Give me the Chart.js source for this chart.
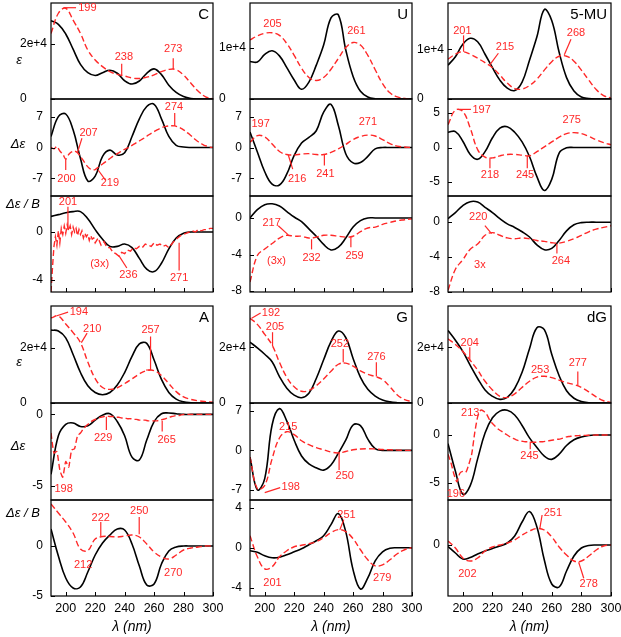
<!DOCTYPE html>
<html>
<head>
<meta charset="utf-8">
<script src="https://cdn.jsdelivr.net/npm/chart.js@4.4.0/dist/chart.umd.min.js"></script>
<style>
  html, body { margin: 0; padding: 0; background: #fff; overflow: hidden; }
  #fig { position: relative; width: 621px; height: 637px; }
  #fig canvas { position: absolute; }
</style>
</head>
<body>
<div id="fig"></div>
<script>
// wavelength grids (nm)
const wl = [190,195,200,205,210,215,220,225,230,235,240,245,250,255,260,265,270,275,280,285,290,295,300];
const wl2 = [190,192,194,196,198,200,202,204,206,208,210,212,214,216,218,220,222,224,226,228,230,232,234,236,238,240,
  242,244,246,248,250,252,254,256,258,260,262,264,266,268,270,272,274,276,278,280,282,284,286,288,290,292,294,296,298,300];
// finer grid for the noisy C MCD trace
const wlNoisy = [190,191,192,193,194,195,196,197,198,199,200,201,202,203,204,205,206,207,208,209,210,211,212,213,214,215,216,217,218,219,220,
  222,224,226,228,230,232,234,236,238,240,242,244,246,248,250,252,254,256,258,260,262,264,266,268,270,272,274,276,278,280,
  282,284,286,288,290,292,294,296,298,300];
const xTicks = [200, 220, 240, 260, 280, 300];

// C
const cEpsBlack = [28300,27000,23500,18000,12500,9500,8500,9500,10400,9300,6600,5400,6500,9300,10900,8800,5000,2400,900,200,0,0,0];
const cEpsRed = [23700,31000,32800,28500,23700,17700,14100,11700,9900,8900,8300,7600,7400,7900,8700,9900,10700,10600,8700,5700,2800,800,100];
const cCdBlack = [2.5,7.0,7.6,4.0,-2.5,-7.6,-6.5,-2.0,-0.6,-1.7,-1.2,2.5,6.5,9.3,9.8,6.5,2.5,0.5,0.1,0,0,0,0];
const cCdRed = [0,-0.3,0.2,-0.8,-1.5,-2.7,-1.6,-1.0,-0.8,-1.2,-2.0,-3.0,-4.0,-4.7,-5.1,-5.0,-4.5,-4.0,-3.5,-3.0,-2.5,-2.0,-1.6,-1.2,-0.8,-0.4,
  -0.1,0.3,0.7,1.1,1.5,1.9,2.3,2.8,3.2,3.6,4.0,4.3,4.6,4.8,4.9,4.95,4.9,4.7,4.4,4.0,3.5,3.0,2.4,1.8,1.3,0.9,0.5,0.3,0.1,0];
const cMcdBlack = [1.3,1.45,1.6,1.7,1.7,1.1,0.2,-0.6,-1.2,-1.2,-1.0,-1.3,-2.2,-3.1,-3.3,-2.6,-1.4,-0.5,-0.1,0,0,0,0];
const cMcdRed = [-5.0,-3.0,-1.2,-0.4,-1.1,0.1,-0.9,0.3,-0.2,0.5,-0.1,0.6,0.1,0.5,-0.2,0.4,0.0,0.3,-0.3,0.2,-0.2,0.1,-0.5,-0.1,-0.4,-0.2,-0.7,-0.3,-0.6,-0.5,-0.9,
  -0.5,-1.1,-0.8,-1.3,-1.3,-1.7,-1.8,-2.0,-1.7,-1.8,-1.5,-1.6,-1.3,-1.4,-1.2,-1.3,-1.0,-1.1,-1.2,-0.9,-1.1,-1.0,-1.2,-1.1,-1.3,-1.0,-0.7,-0.5,-0.3,-0.2,
  -0.1,0.0,0.1,0.0,0.2,0.1,0.2,0.2,0.3,0.3];

// U
const uEpsBlack = [7300,7200,8700,9400,8400,6100,3700,1900,3300,6600,10500,15800,16400,9600,4400,1500,400,50,0,0,0,0,0];
const uEpsRed = [11500,12300,12800,12900,12400,10800,8500,6000,4200,3600,4200,5800,7900,10000,11000,10500,8500,5700,3000,1200,400,100,0];
const uCdBlack = [3.5,-1.0,-5.5,-8.3,-8.5,-6.0,-1.8,1.0,2.3,3.8,8.0,9.8,5.0,-1.4,-3.5,-3.4,-2.0,-0.3,0,0,0,0,0];
const uCdRed = [1.2,2.7,2.4,0.8,-0.9,-1.6,-1.7,-1.5,-1.4,-1.6,-1.6,-1.1,-0.3,0.7,1.8,2.5,2.8,2.6,1.8,0.9,0.3,0.1,0];
const uMcdBlack = [0,0.9,1.45,1.55,1.3,0.7,0.1,-0.4,-1.2,-2.0,-2.9,-3.5,-3.2,-2.2,-1.0,-0.3,0,0,0,0,0,0,0];
const uMcdRed = [-7.0,-4.1,-3.4,-2.8,-2.2,-1.9,-2.0,-2.0,-2.2,-2.1,-1.9,-1.9,-2.0,-2.1,-2.0,-1.5,-1.1,-1.0,-0.7,-0.5,-0.3,-0.2,-0.1];

// 5-MU
const mEpsBlack = [6800,8500,11000,12200,11500,9000,6300,3800,2200,1700,3400,7800,12500,18000,15800,9400,4300,1600,400,100,0,0,0];
const mEpsRed = [8000,9000,9500,9000,8200,7300,6300,4800,3200,2100,2000,2700,4000,5800,7500,8600,8600,7600,5800,3800,1900,700,200];
const mCdBlack = [2.2,2.3,0.9,-1.0,-1.7,-0.6,1.4,2.8,3.0,2.2,0.8,-1.3,-4.2,-6.2,-4.6,-0.8,-0.05,0,0,0,0,0,0];
const mCdRed = [3.3,5.4,5.2,2.8,-0.3,-1.4,-1.5,-1.2,-1.0,-1.0,-1.1,-1.2,-0.6,0.1,0.8,1.5,2.0,2.15,2.0,1.6,1.1,0.7,0.4];
const mMcdBlack = [0.4,1.1,1.9,2.35,2.3,1.7,1.1,0.4,-0.2,-0.6,-1.1,-1.7,-2.6,-3.15,-3.0,-2.1,-1.0,-0.3,-0.05,0,0,0,0];
const mMcdRed = [-7.8,-5.4,-4.3,-3.1,-2.5,-1.5,-1.2,-1.5,-1.8,-1.9,-1.8,-1.9,-2.1,-2.2,-2.35,-2.4,-2.2,-1.9,-1.5,-1.1,-0.8,-0.6,-0.4];

// A
const aEpsBlack = [26300,26000,23500,17500,11000,6200,3800,3000,3800,6500,11000,16800,21300,21500,15500,8500,3800,1400,400,100,0,0,0];
const aEpsRed = [30700,31400,28500,25400,21800,14800,8800,5600,4900,5500,7000,8700,10500,11700,11700,9900,7000,4100,2200,1300,800,500,300];
const aCdBlack = [-4.2,-1.5,-0.7,-0.6,-0.85,-0.8,-0.4,-0.05,0.05,-0.5,-1.5,-3.0,-3.2,-1.8,-0.5,0.05,0.1,0.05,0,0,0,0,0];
const aCdRed = [-1.3,-2.7,-2.6,-3.9,-4.4,-3.3,-3.7,-2.5,-2.4,-1.5,-1.3,-1.0,-0.8,-0.6,-0.45,-0.35,-0.25,-0.2,-0.15,-0.12,-0.15,-0.15,-0.2,-0.2,-0.25,-0.25,
  -0.3,-0.3,-0.35,-0.35,-0.4,-0.4,-0.4,-0.45,-0.45,-0.45,-0.45,-0.4,-0.35,-0.3,-0.2,-0.15,-0.1,-0.1,-0.05,0,0,0,0,0,0,0,0,0,0,0];
const aMcdBlack = [1.7,-1.0,-3.2,-4.2,-4.1,-2.6,-0.9,0.3,1.1,1.7,1.6,0.2,-2.0,-3.9,-3.8,-1.8,-0.5,-0.1,0,0,0,0,0];
const aMcdRed = [4.2,3.3,2.4,1.3,-0.3,-0.45,0.7,0.95,0.95,0.9,1.0,1.1,0.9,0.2,-0.6,-1.1,-1.3,-0.9,-0.4,-0.2,-0.1,0,0];

// G
const gEpsBlack = [21800,19800,17500,14800,9500,5300,2800,1900,3500,8800,15500,22000,25800,23500,16000,9200,4900,2500,1100,400,100,0,0];
const gEpsRed = [30400,28200,24600,20800,14600,9200,5800,4200,4500,6200,8600,11400,13900,14300,13200,11500,10300,9500,8400,5800,2900,1200,500];
const gCdBlack = [-1.2,-7.0,-5.0,4.5,7.4,5.2,1.8,-1.0,-2.4,-3.1,-3.5,-2.6,-0.5,1.8,4.5,4.4,2.0,0.3,0,0,0,0,0];
const gCdRed = [-1.2,-6.8,-6.2,-1.5,2.2,3.3,2.8,1.7,1.0,0.5,0.1,-0.3,-0.45,-0.2,0.1,0.25,0.3,0.25,0.15,0.1,0.05,0,0];
const gMcdBlack = [-0.3,-0.45,-0.8,-1.0,-0.95,-0.7,-0.4,-0.1,0.3,0.7,1.2,2.3,3.4,1.6,-2.2,-4.1,-3.0,-1.3,-0.4,-0.05,0,0,0];
const gMcdRed = [1.2,-0.9,-2.1,-1.9,-0.9,-0.3,0.1,0.25,0.4,0.6,1.0,1.5,1.8,1.6,0.9,-0.2,-1.2,-1.8,-1.7,-1.2,-0.6,-0.2,0];

// dG
const dEpsBlack = [26000,22500,18500,13500,8800,4700,2400,1300,2000,5200,11000,19500,27000,26300,17500,9800,4400,1700,500,100,0,0,0];
const dEpsRed = [23000,21000,18500,15300,11800,7800,4700,2400,2000,3300,5600,7800,9300,9600,9100,8200,7300,6600,5600,4000,2200,800,200];
const dCdBlack = [-0.9,-3.8,-6.2,-5.3,-2.5,0.2,1.8,2.5,2.6,2.1,1.0,-0.3,-1.3,-2.2,-2.55,-2.0,-1.1,-0.5,-0.2,-0.05,0,0,0];
const dCdRed = [-2.0,-2.9,-4.1,-4.9,-4.0,-3.8,-3.9,-3.1,-2.0,0.2,1.9,2.6,2.5,2.2,1.6,1.2,0.9,0.6,0.4,0.2,0.0,-0.2,-0.35,-0.5,-0.6,-0.65,
  -0.7,-0.7,-0.75,-0.75,-0.75,-0.7,-0.7,-0.65,-0.6,-0.55,-0.5,-0.45,-0.4,-0.3,-0.2,-0.15,-0.1,-0.08,-0.06,-0.05,-0.04,-0.03,-0.02,-0.01,0,0,0,0,0,0];
const dMcdBlack = [-0.15,-0.8,-1.4,-1.25,-0.9,-0.6,-0.35,-0.1,0.2,0.9,2.3,3.35,1.8,-1.5,-3.9,-4.2,-2.6,-1.1,-0.3,-0.05,0,0,0];
const dMcdRed = [0.4,-0.3,-1.3,-1.6,-1.3,-0.6,-0.2,0,0.2,0.5,1.0,1.4,1.65,1.5,0.8,-0.2,-1.0,-1.6,-1.6,-1.1,-0.5,-0.1,0];

// red band labels: text, label position, optional leader line (all in data units)
const cEpsNotes = [
  { t: '199', x: 208.5, y: 33000, line: [198.5, 33000, 207, 33000], align: 'left' },
  { t: '238', x: 239.5, y: 15300, line: [238, 8400, 238, 12700] },
  { t: '273', x: 273, y: 18100, line: [273, 10800, 273, 14700] }
];
const cCdNotes = [
  { t: '207', x: 215.5, y: 3.4, line: [208, -1.1, 211, 2.1] },
  { t: '200', x: 200.5, y: -7.2, line: [200, -2.7, 200, -5.1] },
  { t: '219', x: 230, y: -8.0, line: [222, -5.1, 227, -7.4] },
  { t: '274', x: 273.5, y: 9.2, line: [274, 4.9, 274, 7.8] }
];
const cMcdNotes = [
  { t: '201', x: 201.5, y: 2.5, line: [201.5, 2.1, 201.5, 0.2] },
  { t: '(3x)', x: 223, y: -2.65 },
  { t: '236', x: 242.5, y: -3.6, line: [236, -1.95, 241.5, -3.0] },
  { t: '271', x: 277, y: -3.85, line: [277, -0.9, 277, -3.2] }
];
const uEpsNotes = [
  { t: '205', x: 205.3, y: 14700 },
  { t: '261', x: 262.2, y: 13200 }
];
const uCdNotes = [
  { t: '197', x: 197.2, y: 5.4 },
  { t: '271', x: 270, y: 5.8 },
  { t: '216', x: 222, y: -7.2, line: [216, -1.7, 219, -4.9] },
  { t: '241', x: 241.2, y: -6.0, line: [240.5, -1.45, 240.5, -4.1] }
];
const uMcdNotes = [
  { t: '217', x: 204.7, y: -0.55, line: [209.2, -0.85, 216, -1.85] },
  { t: '(3x)', x: 208, y: -4.74 },
  { t: '232', x: 231.8, y: -4.37, line: [231.8, -2.33, 231.8, -3.44] },
  { t: '259', x: 261, y: -4.2, line: [258.5, -2.1, 258.5, -3.2] }
];
const mEpsNotes = [
  { t: '201', x: 199.7, y: 13700, line: [200.5, 12800, 200.5, 9500] },
  { t: '215', x: 228.5, y: 10500, line: [218.3, 6900, 224, 9200] },
  { t: '268', x: 276.4, y: 13300, line: [268.5, 8900, 273, 12000] }
];
const mCdNotes = [
  { t: '197', x: 206.5, y: 5.4, line: [198, 5.5, 205.5, 5.5], align: 'left' },
  { t: '275', x: 273.5, y: 4.0 },
  { t: '218', x: 218.3, y: -3.95, line: [218.3, -1.57, 218.3, -3.0] },
  { t: '245', x: 242, y: -3.95, line: [243.5, -1.2, 243.5, -3.0] }
];
const mMcdNotes = [
  { t: '220', x: 210.4, y: 0.6, line: [214.9, -0.4, 219.4, -1.3] },
  { t: '3x', x: 211.5, y: -4.95 },
  { t: '264', x: 266.2, y: -4.46, line: [263.5, -2.5, 263.5, -3.6] }
];
const aEpsNotes = [
  { t: '194', x: 202.7, y: 32800, line: [194, 31500, 201.6, 32800], align: 'left' },
  { t: '210', x: 218, y: 26700, line: [210.6, 21800, 214.5, 25200] },
  { t: '257', x: 257.6, y: 26200, line: [257.6, 11900, 257.6, 24000] },
  { t: '', x: 257.6, y: 11900, line: [254.6, 11900, 257.6, 11900] }
];
const aCdNotes = [
  { t: '229', x: 225.4, y: -1.67, line: [227.6, -0.16, 227.6, -1.1] },
  { t: '265', x: 268.5, y: -1.8, line: [265.5, -0.44, 265.5, -1.2] },
  { t: '198', x: 198.6, y: -5.2 }
];
const aMcdNotes = [
  { t: '222', x: 223.8, y: 2.83, line: [223.8, 2.4, 223.8, 0.97] },
  { t: '250', x: 249.9, y: 3.47, line: [249.9, 2.9, 249.9, 1.17] },
  { t: '212', x: 211.8, y: -1.93 },
  { t: '270', x: 273, y: -2.7 }
];
const gEpsNotes = [
  { t: '192', x: 198, y: 32300, line: [191.1, 30400, 197.2, 32300], align: 'left' },
  { t: '205', x: 207, y: 27200, line: [205.3, 25400, 205.3, 20400] },
  { t: '252', x: 251, y: 21000, line: [253.3, 19400, 253.3, 14600] },
  { t: '276', x: 275.8, y: 16400, line: [275.8, 14600, 275.8, 9500] }
];
const gCdNotes = [
  { t: '215', x: 216, y: 4.2 },
  { t: '198', x: 211.4, y: -6.5, line: [200, -7.5, 210.5, -6.6], align: 'left' },
  { t: '250', x: 254.3, y: -4.6, line: [250.5, -0.3, 250.5, -3.5] }
];
const gMcdNotes = [
  { t: '251', x: 255.5, y: 3.3, line: [251, 1.8, 253.7, 2.8] },
  { t: '201', x: 205.3, y: -3.5 },
  { t: '279', x: 279.8, y: -3.0 }
];
const dEpsNotes = [
  { t: '204', x: 204.7, y: 21600, line: [204.7, 20000, 204.7, 15200] },
  { t: '253', x: 252.2, y: 12000 },
  { t: '277', x: 277.6, y: 14400, line: [277.6, 11300, 277.6, 6200] }
];
const dCdNotes = [
  { t: '213', x: 205, y: 2.27 },
  { t: '245', x: 245, y: -2.17, line: [245.5, -0.7, 245.5, -1.5] },
  { t: '196', x: 195.3, y: -6.2 }
];
const dMcdNotes = [
  { t: '251', x: 260.8, y: 3.17, line: [252, 1.67, 253.5, 3.0] },
  { t: '202', x: 203.1, y: -2.9 },
  { t: '278', x: 285, y: -3.93, line: [278.2, -1.73, 281.6, -3.33] }
];

// panels: column, row, curves, axis range and tick labels
const panels = [
  { col: 0, row: 0, black: cEpsBlack, red: cEpsRed, redX: wl, min: 0, max: 34700, ticks: [0, 20000], labels: ['0', '2e+4'], notes: cEpsNotes, tag: 'C', title: 'ε' },
  { col: 0, row: 1, black: cCdBlack, red: cCdRed, redX: wl2, min: -11, max: 11, ticks: [-7, 0, 7], labels: ['-7', '0', '7'], notes: cCdNotes, title: 'Δε' },
  { col: 0, row: 2, black: cMcdBlack, red: cMcdRed, redX: wlNoisy, min: -5, max: 3, ticks: [-4, 0], labels: ['-4', '0'], notes: cMcdNotes, title: 'Δε / B' },
  { col: 1, row: 0, black: uEpsBlack, red: uEpsRed, redX: wl, min: 0, max: 18700, ticks: [0, 10000], labels: ['0', '1e+4'], notes: uEpsNotes, tag: 'U' },
  { col: 1, row: 1, black: uCdBlack, red: uCdRed, redX: wl, min: -11, max: 11, ticks: [-7, 0, 7], labels: ['-7', '0', '7'], notes: uCdNotes },
  { col: 1, row: 2, black: uMcdBlack, red: uMcdRed, redX: wl, min: -8.1, max: 2.4, ticks: [-8, -4, 0], labels: ['-8', '-4', '0'], notes: uMcdNotes },
  { col: 2, row: 0, black: mEpsBlack, red: mEpsRed, redX: wl, min: 0, max: 19300, ticks: [0, 10000], labels: ['0', '1e+4'], notes: mEpsNotes, tag: '5-MU' },
  { col: 2, row: 1, black: mCdBlack, red: mCdRed, redX: wl, min: -7, max: 7, ticks: [-5, 0, 5], labels: ['-5', '0', '5'], notes: mCdNotes },
  { col: 2, row: 2, black: mMcdBlack, red: mMcdRed, redX: wl, min: -8, max: 3, ticks: [-8, -4, 0], labels: ['-8', '-4', '0'], notes: mMcdNotes },
  { col: 0, row: 3, black: aEpsBlack, red: aEpsRed, redX: wl, min: 0, max: 35000, ticks: [0, 20000], labels: ['0', '2e+4'], notes: aEpsNotes, tag: 'A', title: 'ε' },
  { col: 0, row: 4, black: aCdBlack, red: aCdRed, redX: wl2, min: -6, max: 0.8, ticks: [-5, 0], labels: ['-5', '0'], notes: aCdNotes, title: 'Δε' },
  { col: 0, row: 5, black: aMcdBlack, red: aMcdRed, redX: wl, min: -5, max: 4.6, ticks: [-5, 0], labels: ['-5', '0'], notes: aMcdNotes, title: 'Δε / B' },
  { col: 1, row: 3, black: gEpsBlack, red: gEpsRed, redX: wl, min: 0, max: 34800, ticks: [0, 20000], labels: ['0', '2e+4'], notes: gEpsNotes, tag: 'G' },
  { col: 1, row: 4, black: gCdBlack, red: gCdRed, redX: wl, min: -8.8, max: 8.4, ticks: [-7, 0, 7], labels: ['-7', '0', '7'], notes: gCdNotes },
  { col: 1, row: 5, black: gMcdBlack, red: gMcdRed, redX: wl, min: -4.8, max: 4.75, ticks: [-4, 0, 4], labels: ['-4', '0', '4'], notes: gMcdNotes },
  { col: 2, row: 3, black: dEpsBlack, red: dEpsRed, redX: wl, min: 0, max: 34800, ticks: [0, 20000], labels: ['0', '2e+4'], notes: dEpsNotes, tag: 'dG' },
  { col: 2, row: 4, black: dCdBlack, red: dCdRed, redX: wl2, min: -6.8, max: 3.35, ticks: [-5, 0], labels: ['-5', '0'], notes: dCdNotes },
  { col: 2, row: 5, black: dMcdBlack, red: dMcdRed, redX: wl, min: -5.1, max: 4.5, ticks: [0], labels: ['0'], notes: dMcdNotes }
];

// layout (page pixels)
const colL = [51, 250, 448];
const colR = [213, 412, 611];
const rowT = [3, 99, 196, 306, 403, 500];
const rowB = [99, 196, 292, 403, 500, 596];
const titleDy = [57, 45, 8, 56, 43, 13];
const titleX = [19, 18, 23, 19, 18, 23];
const PADL = 50, PADR = 20, PADT = 18, PADB = 18, XAXIS_H = 40;
const RED = 'rgb(255, 40, 40)';
const FONT = '"Liberation Sans", Arial, sans-serif';

Chart.defaults.font.family = FONT;
Chart.defaults.color = '#000';

const panelOf = new Map();

const extras = {
  id: 'extras',
  afterDraw(chart) {
    const p = panelOf.get(chart.canvas);
    const { ctx, chartArea: a } = chart;
    const x = chart.scales.x, y = chart.scales.y;
    ctx.save();
    // box
    ctx.strokeStyle = '#000';
    ctx.lineWidth = 1.2;
    ctx.strokeRect(a.left, a.top, a.right - a.left, a.bottom - a.top);
    // inward tick marks
    ctx.lineWidth = 1;
    ctx.beginPath();
    p.ticks.forEach(v => {
      const py = Math.round(y.getPixelForValue(v)) + 0.5;
      ctx.moveTo(a.left, py); ctx.lineTo(a.left + 4, py);
    });
    if (p.row === 2 || p.row === 5) {
      xTicks.forEach(v => {
        const px = Math.round(x.getPixelForValue(v)) + 0.5;
        ctx.moveTo(px, a.bottom); ctx.lineTo(px, a.bottom - 4);
      });
    }
    ctx.stroke();
    // red band labels
    ctx.strokeStyle = RED;
    ctx.fillStyle = RED;
    ctx.lineWidth = 1.2;
    ctx.font = '11px ' + FONT;
    ctx.textBaseline = 'middle';
    p.notes.forEach(n => {
      if (n.line) {
        ctx.beginPath();
        ctx.moveTo(x.getPixelForValue(n.line[0]), y.getPixelForValue(n.line[1]));
        ctx.lineTo(x.getPixelForValue(n.line[2]), y.getPixelForValue(n.line[3]));
        ctx.stroke();
      }
      if (n.t) {
        ctx.textAlign = n.align || 'center';
        ctx.fillText(n.t, x.getPixelForValue(n.x), y.getPixelForValue(n.y));
      }
    });
    // molecule tag
    if (p.tag) {
      ctx.fillStyle = '#000';
      ctx.font = '15px ' + FONT;
      ctx.textAlign = 'right';
      ctx.fillText(p.tag, a.right - 4, a.top + 12);
    }
    // y title (left column only)
    if (p.title) {
      ctx.fillStyle = '#000';
      ctx.font = 'italic 13px ' + FONT;
      ctx.textAlign = 'center';
      ctx.fillText(p.title, titleX[p.row] - p.canvasLeft, a.top + titleDy[p.row]);
    }
    ctx.restore();
  }
};

const fig = document.getElementById('fig');

panels.forEach(p => {
  const isEps = p.row === 0 || p.row === 3;
  const labelled = p.row === 5;
  const plotW = colR[p.col] - colL[p.col];
  const plotH = rowB[p.row] - rowT[p.row];
  const padB = labelled ? 4 : PADB;
  const canvas = document.createElement('canvas');
  canvas.width = PADL + plotW + PADR;
  canvas.height = PADT + plotH + padB + (labelled ? XAXIS_H : 0);
  p.canvasLeft = colL[p.col] - PADL;
  canvas.style.left = p.canvasLeft + 'px';
  canvas.style.top = (rowT[p.row] - PADT) + 'px';
  fig.appendChild(canvas);
  panelOf.set(canvas, p);

  const redSmooth = p.redX === wl ? 0.4 : (p.redX === wlNoisy ? 0 : 0.2);

  new Chart(canvas, {
    type: 'line',
    data: {
      datasets: [
        {
          data: p.redX.map((v, i) => ({ x: v, y: p.red[i] })),
          borderColor: RED,
          borderWidth: 1.4,
          borderDash: [6, 3],
          tension: redSmooth,
          pointRadius: 0
        },
        {
          data: wl.map((v, i) => ({ x: v, y: p.black[i] })),
          borderColor: '#000',
          borderWidth: 1.6,
          tension: 0.4,
          pointRadius: 0
        }
      ]
    },
    options: {
      responsive: false,
      animation: false,
      events: [],
      layout: { padding: { left: isEps ? 19 : 0, right: PADR, top: PADT, bottom: padB } },
      plugins: { legend: { display: false }, tooltip: { enabled: false } },
      scales: {
        x: {
          type: 'linear',
          min: 190,
          max: 300,
          display: labelled,
          grid: { display: false, drawTicks: false },
          border: { display: false },
          afterBuildTicks: s => { s.ticks = xTicks.map(v => ({ value: v })); },
          afterFit: s => { s.height = labelled ? XAXIS_H : 0; },
          ticks: { autoSkip: false, maxRotation: 0, padding: 5, font: { size: 12.5 } },
          title: { display: true, text: 'λ (nm)', font: { size: 14, style: 'italic' }, padding: 0 }
        },
        y: {
          type: 'linear',
          min: p.min,
          max: p.max,
          grid: { display: false, drawTicks: false },
          border: { display: false },
          afterBuildTicks: s => { s.ticks = p.ticks.map(v => ({ value: v })); },
          afterFit: s => { s.width = isEps ? PADL - 19 : PADL; },
          ticks: {
            padding: 8,
            crossAlign: isEps ? 'far' : 'near',
            font: { size: 12 },
            callback: v => p.labels[p.ticks.indexOf(v)]
          }
        }
      }
    },
    plugins: [extras]
  });
});
</script>
</body>
</html>
